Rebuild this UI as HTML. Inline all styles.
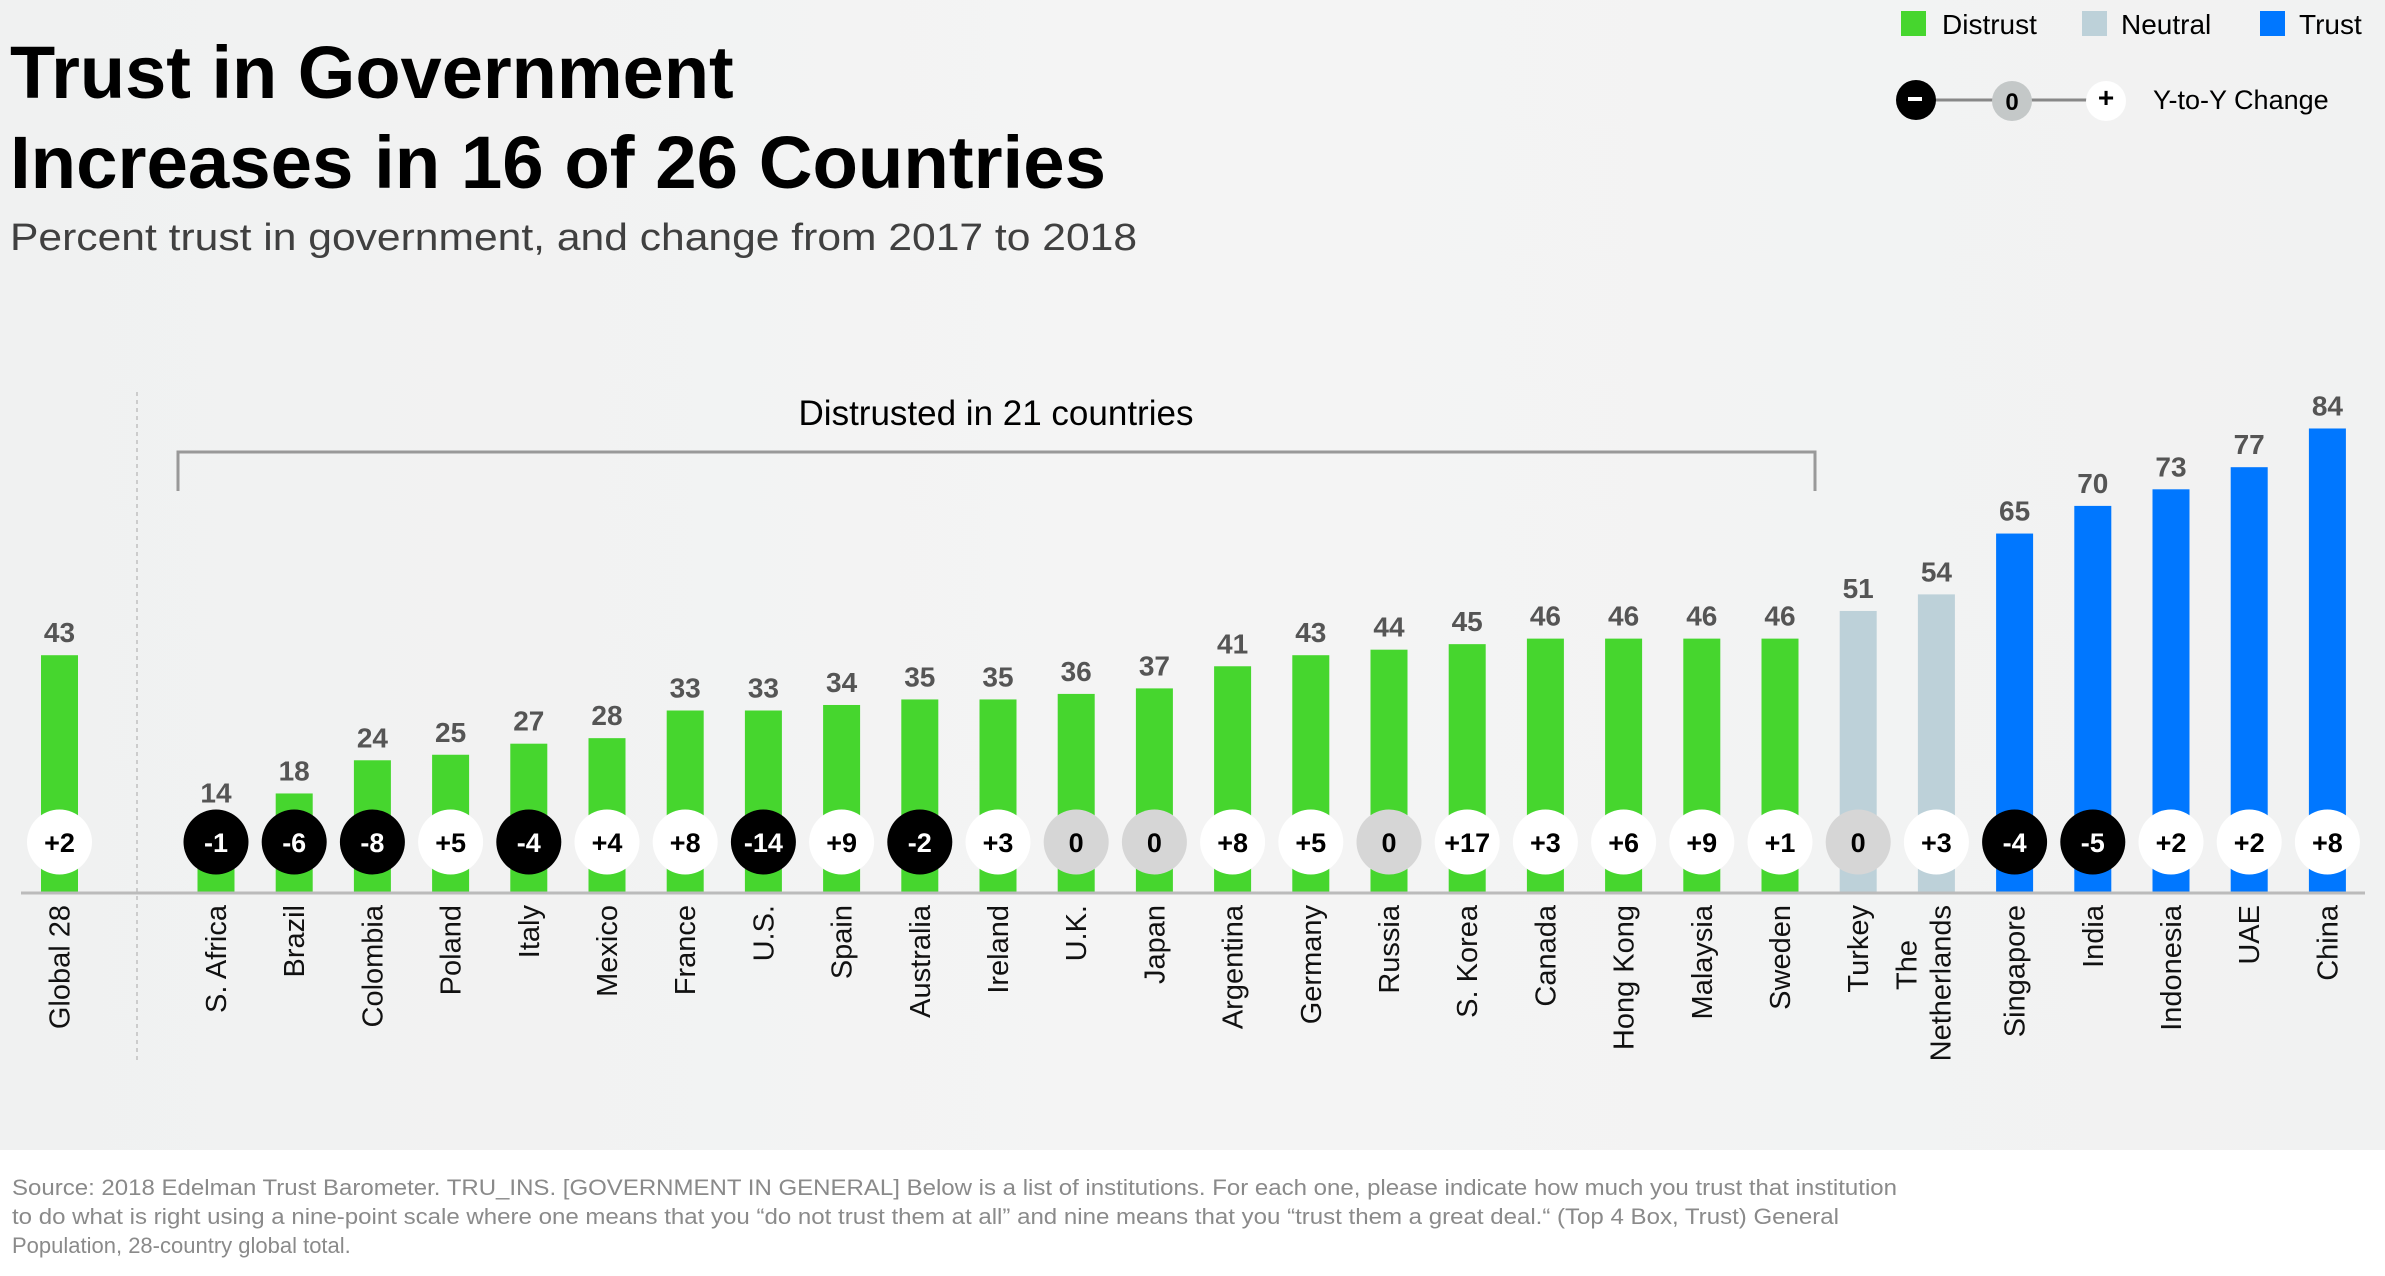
<!DOCTYPE html>
<html><head><meta charset="utf-8"><style>
html,body{margin:0;padding:0;}
body{width:2385px;height:1276px;overflow:hidden;background:#f2f3f3;font-family:"Liberation Sans",Arial,sans-serif;}
svg{display:block}
</style></head><body>
<svg id="chart" width="2385" height="1276" xmlns="http://www.w3.org/2000/svg" font-family="Liberation Sans, Arial, sans-serif">
<defs><linearGradient id="bg" x1="0" y1="0" x2="1" y2="0"><stop offset="0" stop-color="#f0f1f1"/><stop offset="0.5" stop-color="#f4f4f4"/><stop offset="1" stop-color="#f1f2f2"/></linearGradient></defs>
<rect x="0" y="0" width="2385" height="1150" fill="url(#bg)"/>
<rect x="0" y="1150" width="2385" height="126" fill="#ffffff"/>
<text x="10" y="98" font-size="74" font-weight="bold" fill="#000">Trust in Government</text>
<text x="10" y="188" font-size="74" font-weight="bold" fill="#000" textLength="1096" lengthAdjust="spacingAndGlyphs">Increases in 16 of 26 Countries</text>
<text x="10" y="250" font-size="38" fill="#404040" textLength="1127" lengthAdjust="spacingAndGlyphs">Percent trust in government, and change from 2017 to 2018</text>
<g>
<rect x="1901" y="11" width="25" height="25" fill="#46d62e"/>
<text x="1942" y="34" font-size="28" fill="#000">Distrust</text>
<rect x="2082" y="11" width="25" height="25" fill="#bdd1d9"/>
<text x="2121" y="34" font-size="28" fill="#000">Neutral</text>
<rect x="2260" y="11" width="25" height="25" fill="#0077ff"/>
<text x="2299" y="34" font-size="28" fill="#000">Trust</text>
<line x1="1916" y1="100" x2="2106" y2="100" stroke="#888" stroke-width="3"/>
<circle cx="1916" cy="100" r="20" fill="#000"/>
<rect x="1908" y="97" width="14" height="4" fill="#fff"/>
<circle cx="2012" cy="101" r="20" fill="#c4c8c8"/>
<text x="2012" y="110" font-size="24" font-weight="bold" text-anchor="middle">0</text>
<circle cx="2106" cy="101" r="20" fill="#fff"/>
<text x="2106" y="107" font-size="28" font-weight="bold" text-anchor="middle">+</text>
<text x="2153" y="109" font-size="27" fill="#000">Y-to-Y Change</text>
</g>
<text x="996" y="425" font-size="35" fill="#000" text-anchor="middle">Distrusted in 21 countries</text>
<polyline points="178,491 178,452 1815,452 1815,491" fill="none" stroke="#999" stroke-width="3"/>
<line x1="137" y1="392" x2="137" y2="1060" stroke="#ccc" stroke-width="2" stroke-dasharray="4,4"/>
<g id="bars"></g>
<line x1="21" y1="893" x2="2365" y2="893" stroke="#bbb" stroke-width="3"/>
<g id="circles"></g>
<g id="labels"></g>
<g font-size="22" fill="#8a8a8a">
<text x="12" y="1195" textLength="1885" lengthAdjust="spacingAndGlyphs">Source: 2018 Edelman Trust Barometer. TRU_INS. [GOVERNMENT IN GENERAL] Below is a list of institutions. For each one, please indicate how much you trust that institution</text>
<text x="12" y="1224" textLength="1827" lengthAdjust="spacingAndGlyphs">to do what is right using a nine-point scale where one means that you “do not trust them at all” and nine means that you “trust them a great deal.“ (Top 4 Box, Trust) General</text>
<text x="12" y="1253">Population, 28-country global total.</text>
</g>
</svg>
<script>
const categories = ["Global 28","S. Africa","Brazil","Colombia","Poland","Italy","Mexico","France","U.S.","Spain","Australia","Ireland","U.K.","Japan","Argentina","Germany","Russia","S. Korea","Canada","Hong Kong","Malaysia","Sweden","Turkey","The Netherlands","Singapore","India","Indonesia","UAE","China"];
const trustValues = [43,14,18,24,25,27,28,33,33,34,35,35,36,37,41,43,44,45,46,46,46,46,51,54,65,70,73,77,84];
const changeValues = [2,-1,-6,-8,5,-4,4,8,-14,9,-2,3,0,0,8,5,0,17,3,6,9,1,0,3,-4,-5,2,2,8];
const ns = "http://www.w3.org/2000/svg";
const baseY = 893, unit = 5.53;
function xPos(i){ return i === 0 ? 59.5 : 216 + (i-1)*78.2; }
function yPos(v){ return baseY - v*unit; }
function colorFor(v){ return v < 50 ? "#46d62e" : (v < 60 ? "#bdd1d9" : "#0077ff"); }
const bars = document.getElementById("bars"), circles = document.getElementById("circles"), labels = document.getElementById("labels");
function mk(tag, attrs, parent){ const e = document.createElementNS(ns, tag); for (const k in attrs) e.setAttribute(k, attrs[k]); parent.appendChild(e); return e; }
categories.forEach((c, i) => {
  const x = xPos(i), v = trustValues[i], ch = changeValues[i];
  const r = mk("rect", {x: x-18.5, y: yPos(v), width: 37, height: baseY - yPos(v), fill: colorFor(v)}, bars);
  
  
  const t = mk("text", {x: x, y: yPos(v)-13, "font-size": 28, "font-weight": "bold", fill: "#555", "text-anchor": "middle"}, bars);
  t.textContent = v;
  
  
  const fill = ch < 0 ? "#000" : (ch === 0 ? "#d6d6d6" : "#fff");
  const cc = mk("circle", {cx: x, cy: 842, r: 32.5, fill: fill}, circles);
  
  
  const ct = mk("text", {x: x, y: 852, "font-size": 27, "font-weight": "bold", fill: ch < 0 ? "#fff" : "#000", "text-anchor": "middle"}, circles);
  ct.textContent = ch > 0 ? "+" + ch : String(ch);
  
  
  const g = mk("g", {transform: "translate(" + (x+10) + ",905) rotate(-90)"}, labels);
  
  
  if (c === "The Netherlands") {
    const a = mk("text", {x: -35, y: -30, "font-size": 29, fill: "#111", "text-anchor": "end"}, g); a.textContent = "The";
    
    
    const b = mk("text", {x: 0, y: 4, "font-size": 29, fill: "#111", "text-anchor": "end"}, g); b.textContent = "Netherlands";
    
    
  } else {
    const a = mk("text", {x: 0, y: 0, "font-size": 29, fill: "#111", "text-anchor": "end"}, g); a.textContent = c;
    
    
  }
});
</script>
</body></html>
